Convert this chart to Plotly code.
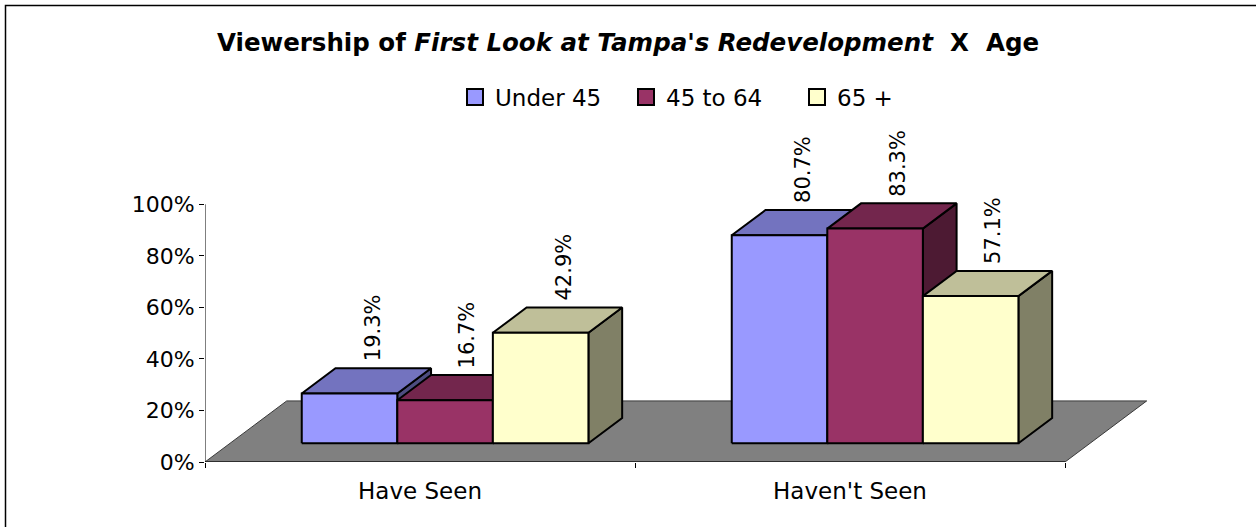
import plotly.graph_objects as go

# ---------------- data ----------------
categories = ["Have Seen", "Haven't Seen"]
series_names = ["Under 45", "45 to 64", "65 +"]
under_45 = [19.3, 80.7]
age_45_64 = [16.7, 83.3]
age_65_plus = [42.9, 57.1]
y_tick_values = [0, 20, 40, 60, 80, 100]
y_tick_labels = ["0%", "20%", "40%", "60%", "80%", "100%"]

series_values = [under_45, age_45_64, age_65_plus]

# ---------------- style ----------------
front_colors = ["#9999FF", "#993366", "#FFFFCC"]
top_colors = ["#7373BF", "#73264D", "#BFBF99"]
side_colors = ["#4D4D80", "#4D1A33", "#808066"]
FONT = "DejaVu Sans"

# oblique 3-D projection (in axis units)
FLOOR_DX = 0.19     # depth shift in category units
FLOOR_DY = 23.7     # depth shift in percent units
FRONT = 0.307       # bar front face depth fraction
BACK = 0.72         # bar back face depth fraction
GROUP_WIDTH = 2 / 3

n_cat = len(categories)
n_ser = len(series_names)
bar_w = GROUP_WIDTH / n_ser


def proj(x, y, d):
    return x + d * FLOOR_DX, y + d * FLOOR_DY


def poly(points):
    xs = [p[0] for p in points] + [points[0][0]]
    ys = [p[1] for p in points] + [points[0][1]]
    return xs, ys


fig = go.Figure()

# floor
fx, fy = poly([proj(0, 0, 0), proj(n_cat, 0, 0), proj(n_cat, 0, 1), proj(0, 0, 1)])
fig.add_trace(go.Scatter(x=fx, y=fy, mode="lines", fill="toself", fillcolor="#808080",
                         line=dict(color="#3a3a3a", width=1), showlegend=False, hoverinfo="skip"))

annotations = []
for c in range(n_cat):
    for i in range(n_ser):
        v = series_values[i][c]
        x0 = c + 0.5 - GROUP_WIDTH / 2 + i * bar_w
        x1 = x0 + bar_w
        side = [proj(x1, 0, FRONT), proj(x1, 0, BACK), proj(x1, v, BACK), proj(x1, v, FRONT)]
        top = [proj(x0, v, FRONT), proj(x1, v, FRONT), proj(x1, v, BACK), proj(x0, v, BACK)]
        front = [proj(x0, 0, FRONT), proj(x1, 0, FRONT), proj(x1, v, FRONT), proj(x0, v, FRONT)]
        for pts, col in ((side, side_colors[i]), (top, top_colors[i]), (front, front_colors[i])):
            px, py = poly(pts)
            fig.add_trace(go.Scatter(x=px, y=py, mode="lines", fill="toself", fillcolor=col,
                                     line=dict(color="black", width=2), showlegend=False,
                                     hoverinfo="skip"))
        lx, _ = proj((x0 + x1) / 2, v, (FRONT + BACK) / 2)
        _, ly = proj(0, v, BACK)
        annotations.append(dict(x=lx, y=ly, xref="x", yref="y", text=f"{v:.1f}%",
                                textangle=-90, showarrow=False, xanchor="center",
                                yanchor="bottom", xshift=6, yshift=5,
                                font=dict(family=FONT, size=21, color="black")))

# legend entries
for i in range(n_ser):
    fig.add_trace(go.Scatter(x=[None], y=[None], mode="markers", name=series_names[i],
                             marker=dict(symbol="square", size=16, color=front_colors[i],
                                         line=dict(color="black", width=2))))

L, T, B, R = 205, 194, 65, 62
W, H = 1256, 527
plot_w = W - L - R
plot_h = H - T - B

shapes = [
    dict(type="line", xref="x", yref="y", x0=0, x1=0, y0=0, y1=100,
         line=dict(color="black", width=1)),
    dict(type="line", xref="x", yref="y", x0=0, x1=n_cat, y0=0, y1=0,
         line=dict(color="black", width=1)),
    dict(type="rect", xref="paper", yref="paper",
         x0=(5.5 - L) / plot_w, x1=(1265 - L) / plot_w,
         y0=(H - B - 535) / plot_h, y1=(H - B - 5.5) / plot_h,
         line=dict(color="black", width=1.5)),
]

fig.update_layout(
    width=W, height=H,
    margin=dict(l=L, r=R, t=T, b=B, autoexpand=False),
    paper_bgcolor="white", plot_bgcolor="white",
    font=dict(family=FONT, size=22, color="black"),
    title=dict(text="Viewership of <i>First Look at Tampa's Redevelopment</i>\u00a0\u00a0X\u00a0\u00a0Age",
               x=0.5, xanchor="center", xref="container",
               y=1 - 42 / H, yanchor="middle", yref="container",
               font=dict(family=FONT, size=24.5, color="black", weight="bold")),
    showlegend=True,
    legend=dict(orientation="h", xref="container", yref="container",
                x=455 / W, xanchor="left", y=1 - 97 / H, yanchor="middle",
                entrywidth=126, entrywidthmode="pixels",
                font=dict(family=FONT, size=23, color="black"),
                bgcolor="rgba(0,0,0,0)", itemclick=False, itemdoubleclick=False),
    xaxis=dict(range=[0, 2.3], showgrid=False, zeroline=False, showline=False,
               tickmode="array", tickvals=[c + 0.5 for c in range(n_cat)], ticktext=categories,
               ticks="", ticklabelstandoff=13, tickfont=dict(family=FONT, size=23),
               minor=dict(tickmode="array", tickvals=list(range(n_cat + 1)), ticks="outside",
                          ticklen=5, tickcolor="black", tickwidth=1),
               fixedrange=True, automargin=False),
    yaxis=dict(range=[0, 104], showgrid=False, zeroline=False, showline=False,
               tickmode="array", tickvals=y_tick_values, ticktext=y_tick_labels,
               ticks="outside", ticklen=5, tickcolor="black", tickwidth=1,
               tickfont=dict(family=FONT, size=22), fixedrange=True, automargin=False),
    shapes=shapes,
    annotations=annotations,
)

fig.write_html("out.html", config={"displayModeBar": False, "staticPlot": True},
               post_script="document.body.style.margin='0px';")
